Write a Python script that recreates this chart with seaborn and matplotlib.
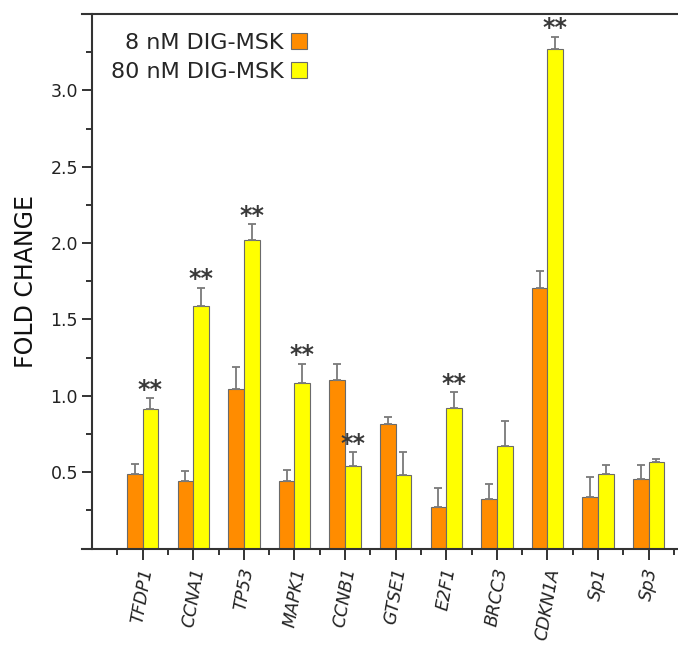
import numpy as np
import pandas as pd
import matplotlib
matplotlib.use("Agg")
import matplotlib.pyplot as plt
import seaborn as sns

genes = ["TFDP1", "CCNA1", "TP53", "MAPK1", "CCNB1", "GTSE1", "E2F1",
         "BRCC3", "CDKN1A", "Sp1", "Sp3"]
dose_labels = ["8 nM DIG-MSK", "80 nM DIG-MSK"]
fold_8nM = [0.485, 0.439, 1.044, 0.439, 1.101, 0.812, 0.269, 0.321, 1.707, 0.337, 0.452]
fold_80nM = [0.914, 1.585, 2.023, 1.084, 0.539, 0.482, 0.923, 0.672, 3.269, 0.487, 0.567]
err_8nM = [0.069, 0.070, 0.144, 0.074, 0.109, 0.049, 0.124, 0.101, 0.109, 0.128, 0.092]
err_80nM = [0.072, 0.122, 0.102, 0.126, 0.092, 0.151, 0.100, 0.163, 0.083, 0.057, 0.018]
signif_80nM = [True, True, True, True, True, False, True, False, True, False, False]
y_ticks = [0.5, 1.0, 1.5, 2.0, 2.5, 3.0]

colors = ["#FF8C00", "#FFFF00"]

df = pd.DataFrame({
    "gene": genes * 2,
    "dose": [dose_labels[0]] * len(genes) + [dose_labels[1]] * len(genes),
    "fold": fold_8nM + fold_80nM,
})

sns.set_style("white")
plt.rcParams["font.family"] = ["DejaVu Sans"]

fig = plt.figure(figsize=(6.78, 6.46), dpi=100)
ax = fig.add_axes([92 / 678, 1 - 548.5 / 646, 1 - 92 / 678, (548.5 - 14) / 646])

sns.barplot(data=df, x="gene", y="fold", hue="dose", order=genes,
            hue_order=dose_labels, palette=colors, saturation=1, width=0.62,
            edgecolor="#6a6a6a", linewidth=0.8, errorbar=None, ax=ax,
            legend=True)

for cont, errs, vals in zip(ax.containers, [err_8nM, err_80nM], [fold_8nM, fold_80nM]):
    xs = [p.get_x() + p.get_width() / 2 for p in cont.patches]
    ax.errorbar(xs, vals, yerr=[np.zeros(len(errs)), errs], fmt="none",
                ecolor="#7a7a7a", elinewidth=1.3, capsize=3, capthick=1.3, zorder=3)

cont80 = ax.containers[1]
for p, v, e, s in zip(cont80.patches, fold_80nM, err_80nM, signif_80nM):
    if s:
        ax.annotate("**", (p.get_x() + p.get_width() / 2, v + e),
                    xytext=(0, 1.0), textcoords="offset points",
                    ha="center", va="baseline", fontsize=17, fontweight="bold",
                    color="#3a3a3a")

ax.set_xlim(-1, 10.58)
ax.set_ylim(0, 3.5)
ax.set_yticks(y_ticks)
ax.set_yticklabels([f"{t:.1f}" for t in y_ticks])
ax.set_yticks(np.arange(0.25, 3.5, 0.5), minor=True)
ax.set_xticks(range(len(genes)))
ax.set_xticklabels(genes, rotation=80, ha="center", va="top", style="italic")
ax.set_xticks(np.arange(-0.5, 10.6, 1.0), minor=True)

ax.tick_params(axis="y", which="major", direction="out", length=7, width=1.4,
               color="#333333", labelsize=12.5, labelcolor="#222222", left=True, pad=3)
ax.tick_params(axis="y", which="minor", direction="out", length=4, width=1.4,
               color="#333333", left=True)
ax.tick_params(axis="x", which="major", direction="out", length=8, width=1.4,
               color="#333333", labelsize=12.5, labelcolor="#222222", bottom=True, pad=5)
ax.tick_params(axis="x", which="minor", direction="out", length=4, width=1.4,
               color="#333333", bottom=True)

for side in ["left", "bottom", "top"]:
    ax.spines[side].set_visible(True)
    ax.spines[side].set_color("#333333")
    ax.spines[side].set_linewidth(1.5)
ax.spines["right"].set_visible(False)
ax.spines["bottom"].set_bounds(-1.2, 10.58)
ax.spines["top"].set_bounds(-1.2, 10.58)

ax.set_xlabel("")
ax.set_ylabel("FOLD CHANGE", fontsize=17, color="#111111", labelpad=9)

handles, labels = ax.get_legend_handles_labels()
ax.legend(handles, labels, loc="upper right", bbox_to_anchor=(307 / 678, 1 - 33 / 646),
          bbox_transform=fig.transFigure, frameon=False, markerfirst=False,
          fontsize=16, handlelength=0.7, handleheight=0.7, handletextpad=0.35,
          labelspacing=0.4, borderpad=0, borderaxespad=0)

fig.savefig("out.png", dpi=100)
